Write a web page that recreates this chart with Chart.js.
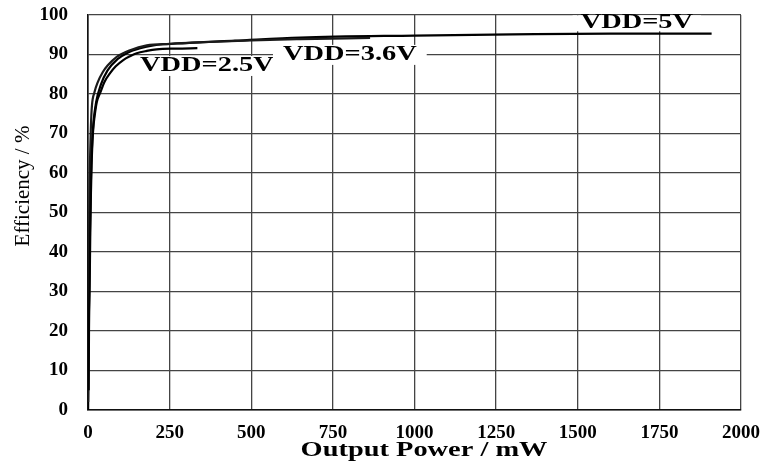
<!DOCTYPE html>
<html>
<head>
<meta charset="utf-8">
<script src="https://cdn.jsdelivr.net/npm/chart.js@4.4.1/dist/chart.umd.min.js"></script>
<style>
  html, body { margin: 0; padding: 0; background: #fff; }
  #wrap { width: 762px; height: 462px; }
</style>
</head>
<body>
<div id="wrap"><canvas id="chart" width="762" height="462"></canvas></div>
<script>
// 出力電力 (mW) と効率 (%) — 図から読み取った値
const power25 = [2, 3, 5, 7, 9, 11, 15, 22, 27, 37, 50, 67, 85, 108, 130, 149, 180, 210, 270, 335];
const eff25   = [5, 20, 31, 45, 55, 62, 70, 75.5, 78, 80.2, 83, 85.2, 87, 88.6, 89.6, 90.3, 90.9, 91.3, 91.5, 91.6];

const power36 = [0.5, 1, 2, 3, 4, 5, 7, 9, 12, 20, 30, 45, 60, 88, 129, 180, 250, 350, 500, 650, 864];
const eff36   = [2, 10, 25, 40, 50, 58, 66, 72, 77, 80.5, 83, 85.5, 87.2, 89.4, 91.1, 92.3, 92.7, 93.1, 93.6, 93.9, 94.2];

const power5 = [0.3, 1, 2, 4, 6, 8, 10, 13, 17, 25, 40, 60, 90, 120, 160, 200, 300, 450, 650, 1000, 1300, 1600, 1910];
const eff5   = [0, 7, 20, 31, 45, 55, 62, 68, 73, 78, 82.5, 86, 88.8, 90.4, 91.6, 92.3, 92.9, 93.5, 94.3, 94.8, 95.1, 95.3, 95.3];

const seriesNames = ['VDD=2.5V', 'VDD=3.6V', 'VDD=5V'];
const xTickValues = [0, 250, 500, 750, 1000, 1250, 1500, 1750, 2000];
const yTickValues = [0, 10, 20, 30, 40, 50, 60, 70, 80, 90, 100];

const SERIF = "'Liberation Serif', 'Times New Roman', serif";
const STRETCH = 1.42;

const toPoints = (xs, ys) => xs.map((x, i) => ({ x, y: ys[i] }));

// 横に引き伸ばした太字テキスト(元画像の文字に合わせる)
function stretchedText(ctx, text, x, y, size, box) {
  ctx.save();
  ctx.font = `bold ${size}px ${SERIF}`;
  const w = ctx.measureText(text).width * STRETCH;
  if (box) {
    ctx.fillStyle = '#fff';
    ctx.fillRect(x - w / 2 - box[0], y - size / 2 - box[1], w + box[0] * 2, size + box[1] * 2);
  }
  ctx.translate(x, y);
  ctx.scale(STRETCH, 1);
  ctx.fillStyle = '#000';
  ctx.textAlign = 'center';
  ctx.textBaseline = 'middle';
  ctx.fillText(text, 0, 0);
  ctx.restore();
}

// 曲線ラベル(データ座標で位置指定)
const curveLabels = [
  { text: seriesNames[0], x: 364, y: 87.1, box: [8, 0] },
  { text: seriesNames[1], x: 802, y: 89.9, box: [10, 0] },
  { text: seriesNames[2], x: 1681, y: 97.9, box: [8, -2] },
];

const labelPlugin = {
  id: 'labels',
  beforeDatasetsDraw(chart) {
    const { ctx, scales: { x, y } } = chart;
    curveLabels.forEach(l => {
      stretchedText(ctx, l.text, x.getPixelForValue(l.x), y.getPixelForValue(l.y), 20, l.box);
    });
  },
  afterDraw(chart) {
    const { ctx } = chart;
    stretchedText(ctx, 'Output Power / mW', 424, 451, 20, null);
    ctx.save();
    ctx.translate(23, 186);
    ctx.rotate(-Math.PI / 2);
    ctx.font = `21px ${SERIF}`;
    ctx.fillStyle = '#000';
    ctx.textAlign = 'center';
    ctx.textBaseline = 'middle';
    ctx.fillText('Efficiency / %', 0, 0);
    ctx.restore();
  }
};

const lineStyle = {
  borderColor: '#000',
  borderWidth: 2.2,
  pointRadius: 0,
  fill: false,
  cubicInterpolationMode: 'monotone',
};

new Chart(document.getElementById('chart'), {
  type: 'line',
  data: {
    datasets: [
      { label: seriesNames[0], data: toPoints(power25, eff25), ...lineStyle },
      { label: seriesNames[1], data: toPoints(power36, eff36), ...lineStyle, borderColor: '#1a1a1a' },
      { label: seriesNames[2], data: toPoints(power5, eff5), ...lineStyle },
    ]
  },
  options: {
    responsive: false,
    animation: false,
    layout: { padding: { top: 15, right: 21, left: 0, bottom: 0 } },
    plugins: {
      legend: { display: false },
      tooltip: { enabled: false },
    },
    scales: {
      x: {
        type: 'linear',
        min: 0,
        max: 2000,
        afterBuildTicks: s => { s.ticks = xTickValues.map(v => ({ value: v })); },
        afterFit: s => { s.height = 52; s.paddingLeft = 0; s.paddingRight = 0; },
        ticks: {
          color: '#000',
          padding: 12,
          maxRotation: 0,
          callback: v => String(v),
          font: { family: SERIF, size: 19, weight: 'bold' },
        },
        grid: { color: '#444', lineWidth: 1.3, drawTicks: false },
        border: { display: true, color: '#111', width: 1.6 },
      },
      y: {
        min: 0,
        max: 100,
        afterBuildTicks: s => { s.ticks = yTickValues.map(v => ({ value: v })); },
        afterFit: s => { s.width = 88; s.paddingTop = 0; s.paddingBottom = 0; },
        ticks: {
          color: '#000',
          padding: 20,
          callback: v => String(v),
          font: { family: SERIF, size: 19, weight: 'bold' },
        },
        grid: { color: '#444', lineWidth: 1.3, drawTicks: false },
        border: { display: true, color: '#111', width: 1.6 },
      }
    }
  },
  plugins: [labelPlugin]
});
</script>
</body>
</html>
